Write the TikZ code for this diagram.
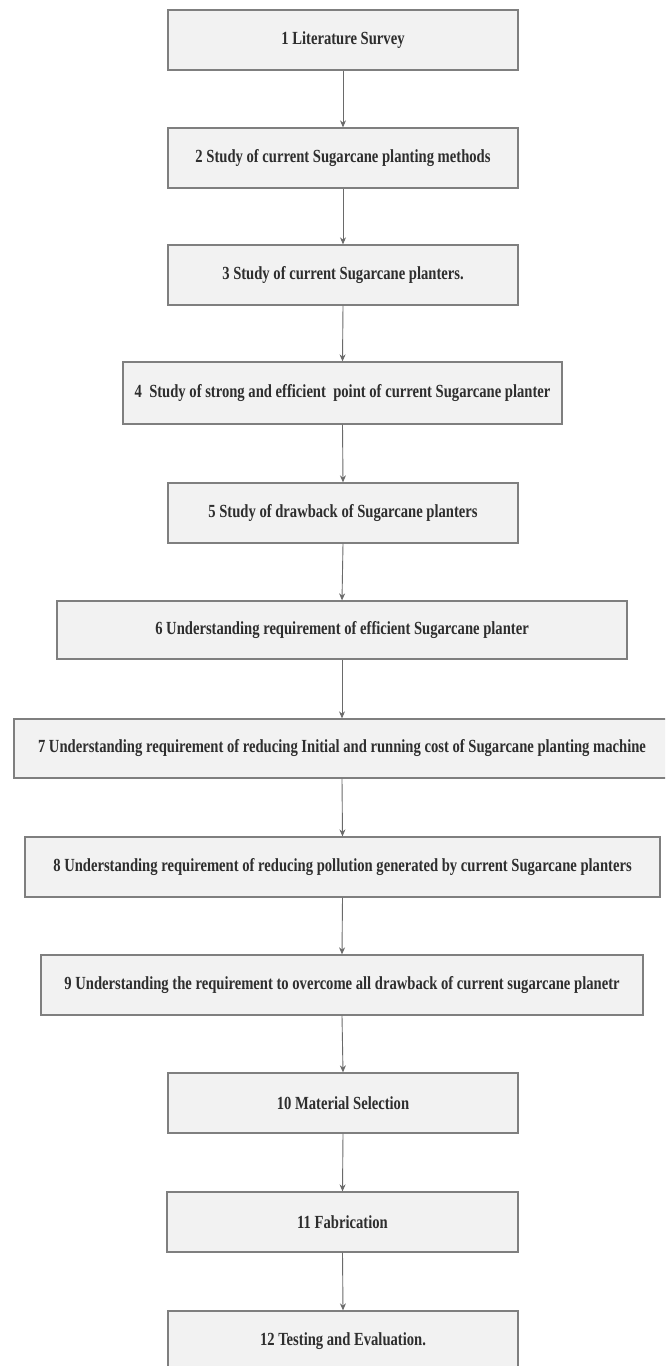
\documentclass[tikz,border=0pt]{standalone}
\usepackage{fontspec}
\setmainfont{Liberation Serif}
\newfontfamily\condfont[FakeStretch=0.79]{Liberation Serif}
\usetikzlibrary{arrows.meta}
\definecolor{boxfill}{HTML}{F2F2F2}
\definecolor{boxline}{HTML}{7F7F7F}
\definecolor{txt}{HTML}{2E2E2E}
\definecolor{arrowc}{HTML}{6A6A6A}
\tikzset{
  stepbox/.style={draw=boxline, fill=boxfill, line width=1.3pt, rectangle, inner sep=0pt,
    minimum height=60pt, font=\condfont\fontsize{18.5}{20}\selectfont\bfseries, text=txt},
  flow/.style={draw=arrowc, line width=0.9pt, -{Stealth[length=7pt,width=6pt]}}
}
\begin{document}
\begin{tikzpicture}[x=1pt,y=-1pt]
\useasboundingbox (0,0) rectangle (665,1366);
\clip (0,0) rectangle (665,1366);
\fill[white] (0,0) rectangle (665,1366);
\node[stepbox, minimum width=350pt] (b1) at (343,40) {1 Literature Survey};
\node[stepbox, minimum width=350pt] (b2) at (343,158) {2 Study of current Sugarcane planting methods};
\node[stepbox, minimum width=350pt] (b3) at (343,275) {3 Study of current Sugarcane planters.};
\node[stepbox, minimum width=439pt, minimum height=62pt] (b4) at (342.5,393) {4~ Study of strong and efficient~ point of current Sugarcane planter};
\node[stepbox, minimum width=350pt] (b5) at (343,513) {5 Study of drawback of Sugarcane planters};
\node[stepbox, minimum width=570pt, minimum height=58pt] (b6) at (342,630) {6 Understanding requirement of efficient Sugarcane planter};
\node[stepbox, minimum width=656pt, minimum height=59pt] (b7) at (342,748.5) {7 Understanding requirement of reducing Initial and running cost of Sugarcane planting machine};
\node[stepbox, minimum width=635pt] (b8) at (342.5,867) {8 Understanding requirement of reducing pollution generated by current Sugarcane planters};
\node[stepbox, minimum width=602pt] (b9) at (342,985) {9 Understanding the requirement to overcome all drawback of current sugarcane planetr};
\node[stepbox, minimum width=350pt] (b10) at (343,1103) {10 Material Selection};
\node[stepbox, minimum width=351pt] (b11) at (342.5,1222) {11 Fabrication};
\node[stepbox, minimum width=350pt] (b12) at (343,1341) {12 Testing and Evaluation.};
\foreach \a/\b in {b1/b2,b2/b3,b3/b4,b4/b5,b5/b6,b6/b7,b7/b8,b8/b9,b9/b10,b10/b11,b11/b12}
  \draw[flow] (\a.south) -- (\b.north);
\end{tikzpicture}
\end{document}
